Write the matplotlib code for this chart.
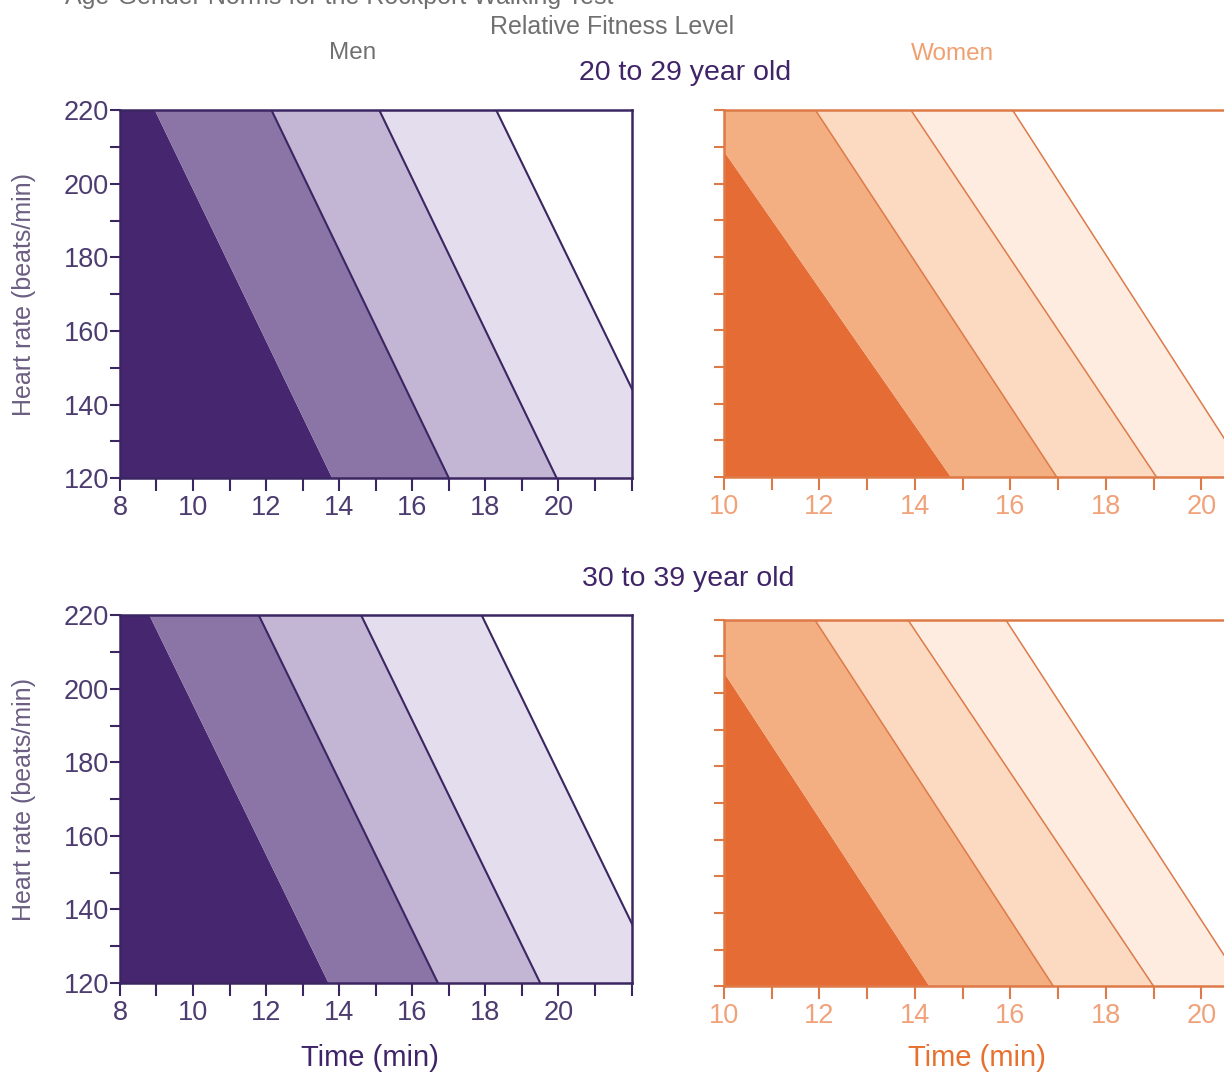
import numpy as np
import matplotlib
matplotlib.use("Agg")
import matplotlib.pyplot as plt
from matplotlib.ticker import MultipleLocator

plt.rcParams['font.family'] = ['Liberation Sans', 'DejaVu Sans']

# boundary lines between fitness bands: time (min) where each line meets HR=220 and HR=120
hr_top, hr_bot = 220, 120
men_2029_top = [8.95, 12.15, 15.1, 18.3]
men_2029_bot = [13.8, 17.0, 19.95, 23.2]
men_3039_top = [8.8, 11.8, 14.6, 17.9]
men_3039_bot = [13.7, 16.7, 19.5, 22.8]
women_2029_top = [9.4, 11.92, 13.92, 16.05]
women_2029_bot = [14.75, 16.97, 19.06, 21.0]
women_3039_top = [9.27, 11.9, 13.85, 15.9]
women_3039_bot = [14.3, 16.9, 19.0, 20.9]

men_xticks = [8, 10, 12, 14, 16, 18, 20]
women_xticks = [10, 12, 14, 16, 18, 20]
men_yticks = [120, 140, 160, 180, 200, 220]

men_fill = ['#46266f', '#8b74a6', '#c3b6d5', '#e3dded', '#ffffff']
women_fill = ['#e66c35', '#f3ae81', '#fcd9c1', '#feece0', '#ffffff']
men_line = '#3b2662'
women_line = '#dd7a48'
men_text = '#4c3c70'
women_text = '#f0a27a'
gray = '#707070'

fig = plt.figure(figsize=(12.24, 10.72), dpi=100)


def panel(rect, tops, bots, xmin, xmax, fills, lc, lw, tc, xticks, ylabels, right_spine):
    ax = fig.add_axes(rect)
    y = np.array([hr_bot, hr_top])
    xs = [np.full(2, xmin - 5.0)]
    for t, b in zip(tops, bots):
        xs.append(np.array([b, t]))
    xs.append(np.full(2, xmax + 5.0))
    for i in range(len(xs) - 1):
        ax.fill_betweenx(y, xs[i], xs[i + 1], color=fills[i], lw=0)
    for t, b in list(zip(tops, bots))[1:]:
        ax.plot([t, b], [hr_top, hr_bot], color=lc, lw=lw)
    ax.set_xlim(xmin, xmax)
    ax.set_ylim(hr_bot, hr_top)
    ax.set_xticks(xticks)
    ax.xaxis.set_minor_locator(MultipleLocator(1))
    ax.yaxis.set_minor_locator(MultipleLocator(10))
    if ylabels:
        ax.set_yticks(men_yticks)
    else:
        ax.set_yticks([])
    ax.tick_params(which='both', direction='out', color=lc, width=1.5, length=9,
                   labelsize=19.5, labelcolor=tc, pad=3)
    ax.tick_params(axis='y', which='both', length=7, pad=1)
    for s in ax.spines.values():
        s.set_color(lc)
        s.set_linewidth(1.8)
    ax.spines['right'].set_visible(right_spine)
    return ax


ax1 = panel([0.098, 0.554, 0.418, 0.343], men_2029_top, men_2029_bot, 8, 22,
            men_fill, men_line, 1.5, men_text, men_xticks, True, True)
ax2 = panel([0.098, 0.083, 0.418, 0.343], men_3039_top, men_3039_bot, 8, 22,
            men_fill, men_line, 1.5, men_text, men_xticks, True, True)
ax3 = panel([0.5915, 0.555, 0.468, 0.342], women_2029_top, women_2029_bot, 10, 22,
            women_fill, women_line, 1.1, women_text, women_xticks, False, False)
ax4 = panel([0.5915, 0.080, 0.468, 0.342], women_3039_top, women_3039_bot, 10, 22,
            women_fill, women_line, 1.1, women_text, women_xticks, False, False)

for ax in (ax1, ax2):
    ax.set_ylabel('Heart rate (beats/min)', fontsize=18, color='#6b5e82', labelpad=20)

# page heading, cut off at the top edge as in the source scan
fig.text(0.053, 0.9965, 'Age-Gender Norms for the Rockport Walking Test', fontsize=18,
         color=gray, ha='left', va='baseline')
fig.text(0.500, 0.975, 'Relative Fitness Level', fontsize=18, color=gray, ha='center', va='center')
fig.text(0.288, 0.951, 'Men', fontsize=17.5, color=gray, ha='center', va='center')
fig.text(0.778, 0.950, 'Women', fontsize=17.5, color='#f0a070', ha='center', va='center')
fig.text(0.560, 0.932, '20 to 29 year old', fontsize=20.5, color='#3f2468', ha='center', va='center')
fig.text(0.562, 0.460, '30 to 39 year old', fontsize=20.5, color='#3f2468', ha='center', va='center')
fig.text(0.302, 0.013, 'Time (min)', fontsize=21, color='#3f2468', ha='center', va='center')
fig.text(0.798, 0.013, 'Time (min)', fontsize=21, color='#e8702f', ha='center', va='center')

fig.savefig('out.png', dpi=100)
